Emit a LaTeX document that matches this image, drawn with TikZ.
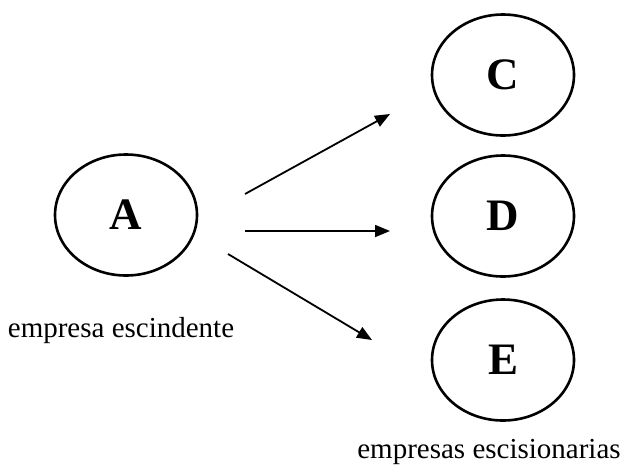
\documentclass[tikz,border=0pt]{standalone}
\usepackage{fontspec}
\setmainfont{Liberation Serif}
\usetikzlibrary{shapes.geometric,arrows.meta}
\begin{document}
\begin{tikzpicture}[x=1pt,y=-1pt,
  firm/.style={ellipse,draw,line width=2.6pt,minimum width=142pt,minimum height=121pt,inner sep=0pt,font=\fontsize{45}{45}\selectfont\bfseries},
  caption/.style={anchor=base,inner sep=0pt,font=\fontsize{29}{29}\selectfont},
  link/.style={line width=1.8pt,-{Triangle[length=15pt,width=12pt]}}]
\useasboundingbox (0,0) rectangle (623,464);
\node[firm] (A) at (126,215) {A};
\node[firm] (C) at (503,75) {C};
\node[firm] (D) at (503,216) {D};
\node[firm] (E) at (503,360) {E};
\node[caption] (la) at (121,337) {empresa escindente};
\node[caption] (lb) at (489,458) {empresas escisionarias};
\coordinate (s1) at (245,194);
\coordinate (e1) at (390,114);
\coordinate (s2) at (245,231);
\coordinate (e2) at (390,231);
\coordinate (s3) at (228,254);
\coordinate (e3) at (372,340);
\draw[link] (s1) -- (e1);
\draw[link] (s2) -- (e2);
\draw[link] (s3) -- (e3);
\end{tikzpicture}
\end{document}
